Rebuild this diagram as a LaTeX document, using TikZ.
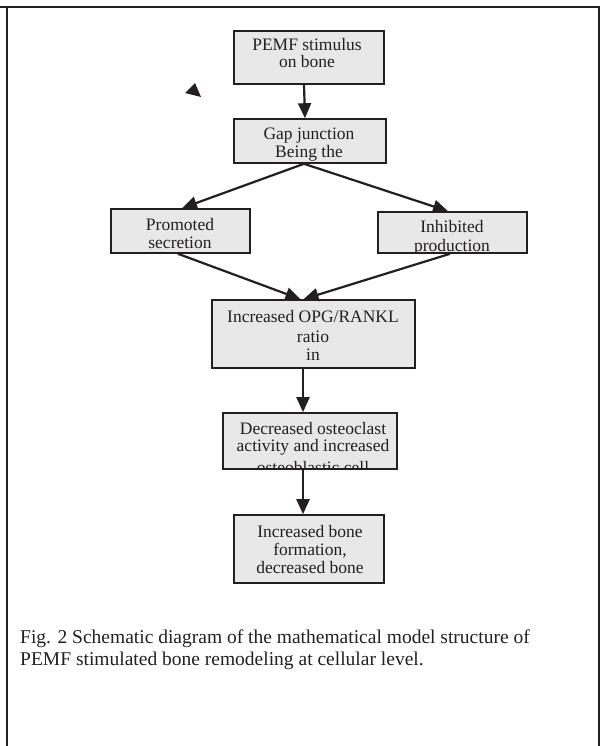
\documentclass[tikz,border=0pt]{standalone}
\usepackage{fontspec}
\setmainfont{Liberation Serif}
\usetikzlibrary{arrows.meta}
\definecolor{boxfill}{HTML}{E8E8E8}
\definecolor{ink}{HTML}{231F20}
\begin{document}
\begin{tikzpicture}[x=1pt,y=-1pt,
  boxnode/.style={draw=ink,fill=boxfill,line width=1.6pt,rectangle,inner sep=0pt},
  flow/.style={draw=ink,line width=2.2pt,-{Triangle[length=15pt,width=13pt]}},
  txt/.style={anchor=base,inner sep=0pt,font=\fontsize{17.5}{17}\selectfont,text=ink},
  captxt/.style={anchor=base west,inner sep=0pt,font=\fontsize{19.5}{22}\selectfont,text=ink},
  frame/.style={draw=ink,line width=2pt}]
\useasboundingbox (0,0) rectangle (604,746);
% frame
\coordinate (ftl) at (0,7);
\coordinate (ftr) at (599,7);
\coordinate (fl1) at (7,7);
\coordinate (fl2) at (7,746);
\coordinate (fr2) at (599,746);
\draw[frame] (ftl) -- (ftr) -- (fr2);
\draw[frame] (fl1) -- (fl2);
% boxes
\node[boxnode,minimum width=150pt,minimum height=53pt] (b1) at (309,57.5) {};
\node[boxnode,minimum width=152pt,minimum height=44pt] (b2) at (310,141) {};
\node[boxnode,minimum width=139pt,minimum height=44pt] (lb) at (180.5,231) {};
\node[boxnode,minimum width=149pt,minimum height=41pt] (rb) at (452.5,232.5) {};
\node[boxnode,minimum width=203pt,minimum height=68pt] (opg) at (313.5,334) {};
\node[boxnode,minimum width=174pt,minimum height=56pt] (dec) at (310,441) {};
\node[boxnode,minimum width=150pt,minimum height=68pt] (fin) at (309,549) {};
% texts (clipped by their boxes)
\begin{scope}\clip (b1.north west) rectangle (b1.south east);
\node[txt] at (307,51) {PEMF stimulus};
\node[txt] at (307,68) {on bone};
\end{scope}
\begin{scope}\clip (b2.north west) rectangle (b2.south east);
\node[txt] at (309,140) {Gap junction};
\node[txt] at (309,158) {Being the};
\end{scope}
\begin{scope}\clip (lb.north west) rectangle (lb.south east);
\node[txt] at (180,230) {Promoted};
\node[txt] at (180,248) {secretion};
\end{scope}
\begin{scope}\clip (rb.north west) rectangle (rb.south east);
\node[txt] at (452,232) {Inhibited};
\node[txt] at (452,251) {production};
\end{scope}
\begin{scope}\clip (opg.north west) rectangle (opg.south east);
\node[txt] at (313,322) {Increased OPG/RANKL};
\node[txt] at (313,342) {ratio};
\node[txt] at (313,360) {in};
\end{scope}
\begin{scope}\clip (dec.north west) rectangle (dec.south east);
\node[txt] at (313,434) {Decreased osteoclast};
\node[txt] at (313,451) {activity and increased};
\node[txt] at (313,473) {osteoblastic cell};
\end{scope}
\begin{scope}\clip (fin.north west) rectangle (fin.south east);
\node[txt] at (310,537) {Increased bone};
\node[txt] at (310,555) {formation,};
\node[txt] at (310,573) {decreased bone};
\end{scope}
% connectors
\draw[flow] ([xshift=-5pt]b1.south) -- ([xshift=-5pt]b2.north);
\draw[flow] ([xshift=-6pt]b2.south) -- ([xshift=1.5pt]lb.north);
\draw[flow] ([xshift=-6pt]b2.south) -- ([xshift=-4.5pt]rb.north);
\draw[flow] ([xshift=-2.5pt]lb.south) -- ([xshift=-13pt]opg.north);
\draw[flow] ([xshift=-2.5pt]rb.south) -- ([xshift=-10pt]opg.north);
\draw[flow] ([xshift=-10.5pt]opg.south) -- ([xshift=-7pt]dec.north);
\draw[flow] ([xshift=-7pt]dec.south) -- ([xshift=-6pt]fin.north);
% stray arrowhead
\fill[ink] (195,83) -- (185,93) -- (201,97) -- cycle;
% caption
\node[captxt] (cap1) at (20,643) {Fig. 2 Schematic diagram of the mathematical model structure of};
\node[captxt] (cap2) at (20,665) {PEMF stimulated bone remodeling at cellular level.};
\end{tikzpicture}
\end{document}
